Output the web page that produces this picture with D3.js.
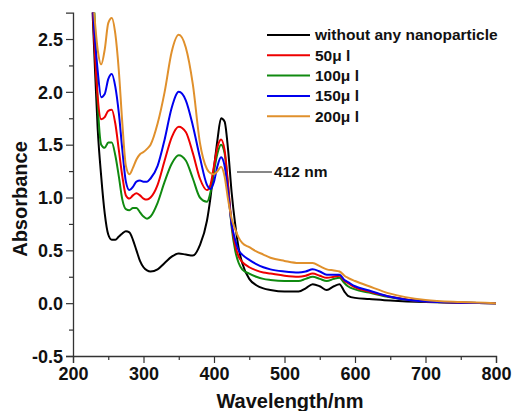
<!DOCTYPE html>
<meta charset="utf-8">
<script src="https://d3js.org/d3.v7.min.js"></script>
<style>
  body { margin: 0; background: #fff; }
  text { font-family: "Liberation Sans", Arial, sans-serif; font-weight: bold; }
</style>
<div id="my_dataviz"></div>
<script>
// wavelengths (nm) shared by all spectra
var wavelengths = [225, 230, 235, 240, 245, 250, 255, 260, 265, 270, 275, 280, 285, 290, 295, 300, 305, 310,
  320, 330, 340, 350, 360, 370, 380, 390, 395, 400, 405, 410, 415, 420, 425, 430, 435, 440, 450, 460, 470, 480,
  500, 520, 530, 540, 550, 560, 570, 578, 585, 590, 600, 620, 650, 700, 750, 800];

var seriesNames = ["without any nanoparticle", "50\u03bc l", "100\u03bc l", "150\u03bc l", "200\u03bc l"];
var seriesColors = ["#000000", "#ee0000", "#108a10", "#0000ee", "#e0902c"];

var absBlack = [3.2, 2.4, 1.65, 1.2, 0.85, 0.65, 0.6, 0.6, 0.63, 0.66, 0.68, 0.67, 0.6, 0.5, 0.4, 0.34, 0.31, 0.3,
  0.32, 0.38, 0.44, 0.47, 0.46, 0.45, 0.55, 0.78, 1.0, 1.28, 1.55, 1.75, 1.72, 1.45, 1.05, 0.75, 0.52, 0.38, 0.23, 0.17, 0.14, 0.125,
  0.11, 0.11, 0.14, 0.18, 0.16, 0.125, 0.16, 0.18, 0.11, 0.07, 0.05, 0.04, 0.025, 0.01, 0.005, 0.0];
var abs50 = [3.2, 2.5, 1.95, 1.74, 1.76, 1.82, 1.83, 1.7, 1.45, 1.2, 1.02, 0.99, 1.02, 1.04, 1.02, 0.99, 0.98, 1.0,
  1.12, 1.35, 1.57, 1.67, 1.62, 1.42, 1.18, 1.07, 1.12, 1.3, 1.48, 1.55, 1.45, 1.12, 0.75, 0.55, 0.44, 0.39, 0.34, 0.31, 0.29, 0.28,
  0.26, 0.25, 0.26, 0.28, 0.26, 0.24, 0.25, 0.26, 0.21, 0.19, 0.15, 0.11, 0.06, 0.015, 0.005, 0.0];
var abs100 = [3.2, 2.8, 1.9, 1.5, 1.47, 1.52, 1.52, 1.4, 1.2, 0.98, 0.89, 0.88, 0.9, 0.9, 0.86, 0.82, 0.8, 0.82,
  0.95, 1.15, 1.32, 1.4, 1.35, 1.18, 1.0, 0.96, 1.05, 1.25, 1.42, 1.5, 1.42, 1.1, 0.72, 0.5, 0.38, 0.32, 0.28, 0.25, 0.23, 0.22,
  0.21, 0.21, 0.23, 0.25, 0.23, 0.21, 0.23, 0.24, 0.19, 0.16, 0.13, 0.1, 0.055, 0.015, 0.005, 0.0];
var abs150 = [3.2, 2.6, 2.2, 1.95, 1.98, 2.12, 2.17, 2.05, 1.8, 1.45, 1.15, 1.07, 1.1, 1.15, 1.16, 1.15, 1.15, 1.18,
  1.3, 1.55, 1.85, 2.0, 1.92, 1.68, 1.38, 1.12, 1.08, 1.15, 1.3, 1.38, 1.3, 1.05, 0.75, 0.6, 0.5, 0.46, 0.41, 0.37, 0.34, 0.32,
  0.3, 0.29, 0.3, 0.32, 0.3, 0.27, 0.27, 0.27, 0.22, 0.2, 0.16, 0.12, 0.06, 0.015, 0.005, 0.0];
var abs200 = [3.2, 2.75, 2.4, 2.26, 2.4, 2.65, 2.7, 2.55, 2.2, 1.7, 1.3, 1.22, 1.28, 1.36, 1.41, 1.43, 1.46, 1.5,
  1.7, 2.0, 2.38, 2.54, 2.42, 2.07, 1.52, 1.27, 1.23, 1.22, 1.25, 1.29, 1.2, 0.98, 0.8, 0.7, 0.62, 0.57, 0.53, 0.49, 0.46, 0.43,
  0.4, 0.38, 0.38, 0.38, 0.35, 0.32, 0.31, 0.3, 0.26, 0.24, 0.21, 0.16, 0.09, 0.03, 0.01, 0.0];

var xTicks = [200, 300, 400, 500, 600, 700, 800];
var yTicks = [-0.5, 0.0, 0.5, 1.0, 1.5, 2.0, 2.5];

var width = 513, height = 411;
var svg = d3.select("#my_dataviz").append("svg")
  .attr("width", width).attr("height", height);

var x = d3.scaleLinear().domain([200, 800]).range([73, 496]);
var y = d3.scaleLinear().domain([-0.5, 2.75]).range([356, 12.6]);

svg.append("clipPath").attr("id", "clip")
  .append("rect").attr("x", 73).attr("y", 12.6).attr("width", 423).attr("height", 343.4);

var allSeries = [absBlack, abs50, abs100, abs150, abs200];
var line = d3.line()
  .x(function(d, i) { return x(wavelengths[i]); })
  .y(function(d) { return y(d); })
  .curve(d3.curveMonotoneX);

// draw in order so black sits under the others like the original
var drawOrder = [0, 2, 1, 3, 4];
svg.append("g").attr("clip-path", "url(#clip)")
  .selectAll("path").data(drawOrder).enter().append("path")
  .attr("d", function(k) { return line(allSeries[k]); })
  .attr("fill", "none")
  .attr("stroke", function(k) { return seriesColors[k]; })
  .attr("stroke-width", 2);

// axes
var xAxis = svg.append("g").attr("transform", "translate(0,356)")
  .call(d3.axisBottom(x).tickValues(xTicks).tickSize(7).tickPadding(4).tickFormat(d3.format("d")));
svg.append("g").attr("transform", "translate(0,356)")
  .call(d3.axisBottom(x).tickValues(d3.range(250, 800, 100)).tickSize(4).tickFormat(""))
  .select(".domain").remove();
// plain hyphen for the negative label, like the original
var yAxis = svg.append("g").attr("transform", "translate(73,0)")
  .call(d3.axisLeft(y).tickValues(yTicks).tickSize(7).tickPadding(3)
    .tickFormat(function(d) { return d.toFixed(1); }));
svg.append("g").attr("transform", "translate(73,0)")
  .call(d3.axisLeft(y).tickValues(d3.range(-0.25, 2.75, 0.5)).tickSize(4).tickFormat(""))
  .select(".domain").remove();

svg.selectAll(".domain").attr("stroke", "#333").attr("stroke-width", 1.3);
svg.selectAll(".tick line").attr("stroke", "#333").attr("stroke-width", 1.2);
xAxis.selectAll("text").style("font-size", "18px").attr("fill", "#111");
yAxis.selectAll("text").style("font-size", "18px").attr("fill", "#111").attr("dy", "0.35em");

svg.append("text").attr("x", 290).attr("y", 408).attr("text-anchor", "middle")
  .style("font-size", "20px").attr("fill", "#111").text("Wavelength/nm");
svg.append("text").attr("transform", "translate(27,199) rotate(-90)").attr("text-anchor", "middle")
  .style("font-size", "20px").attr("fill", "#111").text("Absorbance");

// legend
var legend = svg.append("g").selectAll("g").data(seriesNames).enter().append("g")
  .attr("transform", function(d, i) { return "translate(267," + (35 + i * 20.3) + ")"; });
legend.append("line").attr("x1", 0).attr("x2", 43).attr("y1", 0).attr("y2", 0)
  .attr("stroke", function(d, i) { return seriesColors[i]; }).attr("stroke-width", 2);
legend.append("text").attr("x", 48).attr("dy", "0.35em")
  .style("font-size", "15.5px").attr("fill", "#111").text(function(d) { return d; });

// peak annotation
svg.append("line").attr("x1", 237).attr("x2", 272).attr("y1", 172).attr("y2", 172)
  .attr("stroke", "#111").attr("stroke-width", 1.2);
svg.append("text").attr("x", 274).attr("y", 172).attr("dy", "0.35em")
  .style("font-size", "15.5px").attr("fill", "#111").text("412 nm");
</script>
